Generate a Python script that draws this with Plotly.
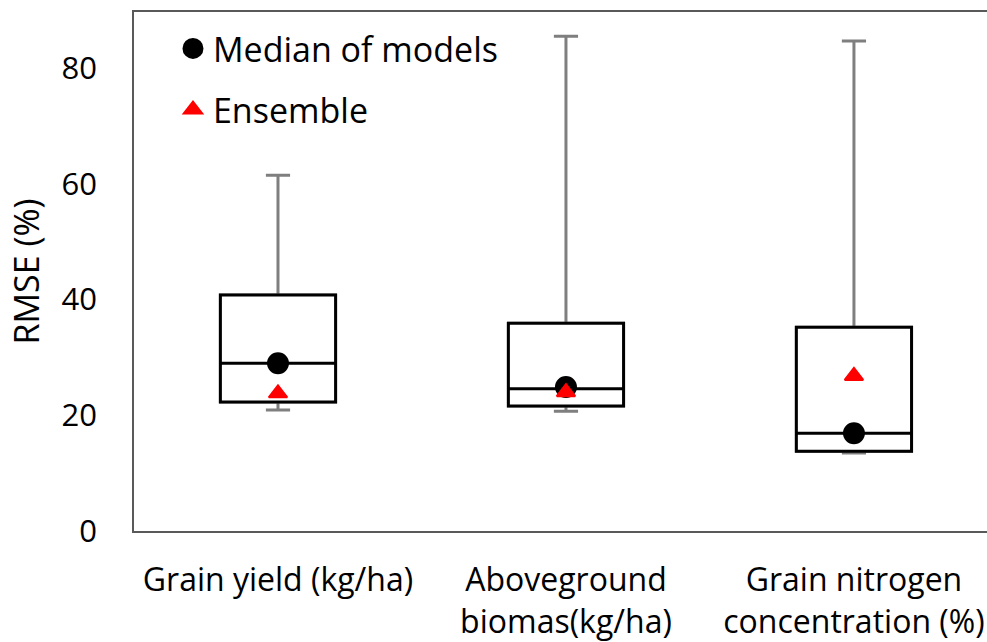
import plotly.graph_objects as go

categories = ["Grain yield (kg/ha)", "Aboveground<br>biomas(kg/ha)", "Grain nitrogen<br>concentration (%)"]
whisker_low = [20.9, 20.7, 13.5]
q1 = [22.3, 21.6, 13.8]
median = [29.0, 24.6, 16.9]
q3 = [40.8, 35.9, 35.2]
whisker_high = [61.5, 85.5, 84.7]
median_of_models = [29.0, 24.9, 16.9]
ensemble = [23.8, 24.0, 26.8]

FONT = "Open Sans"
fig = go.Figure()

# Gray whiskers (full box drawn in gray, overlaid later by black box)
fig.add_trace(go.Box(
    x=categories, q1=q1, median=median, q3=q3,
    lowerfence=whisker_low, upperfence=whisker_high,
    width=0.4, whiskerwidth=0.21,
    line=dict(color="#7f7f7f", width=3), fillcolor="white",
    showlegend=False, hoverinfo="skip",
))
# Black box body without whiskers
fig.add_trace(go.Box(
    x=categories, q1=q1, median=median, q3=q3,
    lowerfence=q1, upperfence=q3,
    width=0.4, whiskerwidth=0,
    line=dict(color="black", width=3), fillcolor="white",
    showlegend=False, hoverinfo="skip",
))
fig.add_trace(go.Scatter(
    x=categories, y=median_of_models, mode="markers", name="Median of models",
    marker=dict(symbol="circle", size=17, color="black", line=dict(color="black", width=5)),
    legendgroup="a",
))
fig.add_trace(go.Scatter(
    x=categories, y=ensemble, mode="markers", name="Ensemble",
    marker=dict(symbol="triangle-up", size=16, color="red", line=dict(color="red", width=2)),
    legendgroup="b",
))

fig.update_layout(
    width=987, height=642,
    margin=dict(l=134, r=0, t=12, b=111),
    plot_bgcolor="white", paper_bgcolor="white",
    font=dict(family=FONT, color="black"),
    boxmode="overlay",
    legend=dict(x=0.0457, y=0.985, xanchor="left", yanchor="top",
                font=dict(size=34, family=FONT), bgcolor="rgba(0,0,0,0)",
                traceorder="grouped", tracegroupgap=14),
    xaxis=dict(range=[-0.5, 2.462], showline=True, linecolor="#595959", linewidth=1.5,
               mirror=True, showgrid=False, ticks="", tickfont=dict(size=32, family=FONT),
               ticklabelstandoff=20),
    yaxis=dict(range=[0, 89.7], showline=True, linecolor="#595959", linewidth=1.5,
               showgrid=False, zeroline=False, ticks="", tickvals=[0, 20, 40, 60, 80],
               tickfont=dict(size=31, family=FONT), ticklabelstandoff=29,
               title=dict(text="RMSE (%)", font=dict(size=34, family=FONT), standoff=12)),
)

fig.write_html("out.html", config={"displayModeBar": False},
               post_script="document.body.style.margin='0';document.body.style.overflow='hidden';")
